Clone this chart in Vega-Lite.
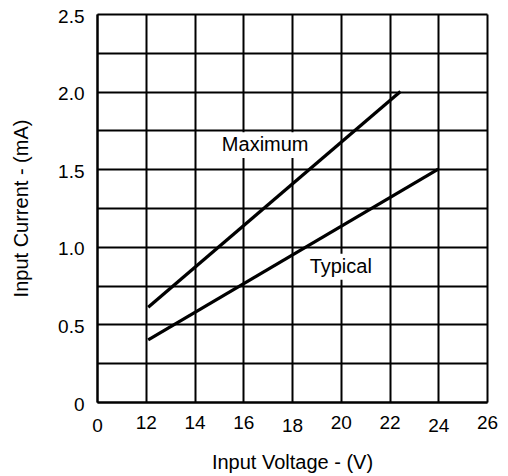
{
  "$schema": "https://vega.github.io/schema/vega-lite/v6.json",
  "autosize": "none",
  "width": 390,
  "height": 388,
  "padding": {"left": 97, "top": 14, "right": 21, "bottom": 74},
  "background": "white",
  "config": {
    "view": {"stroke": null},
    "font": "Liberation Sans",
    "axis": {
      "labelFont": "Liberation Sans",
      "titleFont": "Liberation Sans",
      "labelFontSize": 19,
      "titleFontSize": 20,
      "titleFontWeight": "normal",
      "labelColor": "black",
      "titleColor": "black",
      "grid": true,
      "gridColor": "black",
      "gridWidth": 2,
      "gridOpacity": 1,
      "domainColor": "black",
      "domainWidth": 2,
      "ticks": false
    }
  },
  "datasets": {
    "curves": [
      {"series": "Maximum", "voltage": 12.1, "current": 0.61},
      {"series": "Maximum", "voltage": 22.45, "current": 2.0},
      {"series": "Typical", "voltage": 12.1, "current": 0.4},
      {"series": "Typical", "voltage": 24.0, "current": 1.5}
    ],
    "labels": [
      {"label": "Maximum", "voltage": 16.9, "current": 1.655},
      {"label": "Typical", "voltage": 20.0, "current": 0.872}
    ]
  },
  "layer": [
    {
      "data": {"name": "curves"},
      "mark": {"type": "line", "color": "black", "strokeWidth": 3.3, "strokeCap": "butt"},
      "encoding": {
        "x": {
          "field": "voltage",
          "type": "quantitative",
          "scale": {"domain": [10, 26], "nice": false, "zero": false},
          "axis": {
            "title": "Input Voltage - (V)",
            "values": [10, 12, 14, 16, 18, 20, 22, 24, 26],
            "tickCount": 20,
            "labelExpr": "datum.value == 10 ? '0' : datum.label",
            "labelPadding": {"condition": {"test": "datum.value == 10 || datum.value == 18 || datum.value == 24", "value": 14}, "value": 11},
            "labelFlush": false,
            "titlePadding": 17
          }
        },
        "y": {
          "field": "current",
          "type": "quantitative",
          "scale": {"domain": [0, 2.5], "nice": false},
          "axis": {
            "title": "Input Current - (mA)",
            "values": [0, 0.25, 0.5, 0.75, 1, 1.25, 1.5, 1.75, 2, 2.25, 2.5],
            "tickCount": 20,
            "labelExpr": "datum.value == 0 ? '0' : ((datum.value * 2) % 1 == 0 ? format(datum.value, '.1f') : '')",
            "labelPadding": 13,
            "labelOffset": 2,
            "labelFlush": false,
            "titlePadding": 26
          }
        },
        "detail": {"field": "series"}
      }
    },
    {
      "data": {"name": "labels"},
      "mark": {"type": "point", "filled": true, "color": "white", "opacity": 1, "strokeWidth": 0},
      "encoding": {
        "x": {"field": "voltage", "type": "quantitative"},
        "y": {"field": "current", "type": "quantitative"},
        "shape": {
          "condition": {"test": "datum.label == 'Maximum'", "value": "M-1,-0.27L1,-0.27L1,0.27L-1,0.27Z"},
          "value": "M-1,-0.36L1,-0.36L1,0.36L-1,0.36Z"
        },
        "size": {
          "condition": {"test": "datum.label == 'Maximum'", "value": 9216},
          "value": 5184
        }
      }
    },
    {
      "data": {"name": "labels"},
      "mark": {"type": "text", "font": "Liberation Sans", "fontSize": 20, "color": "black", "baseline": "middle", "align": "center"},
      "encoding": {
        "x": {"field": "voltage", "type": "quantitative"},
        "y": {"field": "current", "type": "quantitative"},
        "text": {"field": "label"}
      }
    }
  ]
}
